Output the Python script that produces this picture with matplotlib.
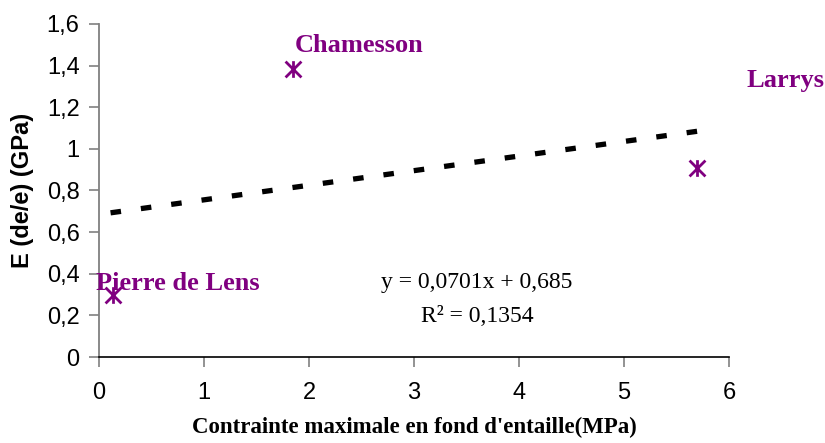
import numpy as np
import matplotlib
matplotlib.use("Agg")
import matplotlib.pyplot as plt
from matplotlib.path import Path
from matplotlib.ticker import FuncFormatter

# data
names = ["Pierre de Lens", "Chamesson", "Larrys"]
contrainte = [0.13, 1.85, 5.70]
module_e = [0.30, 1.385, 0.91]
slope = 0.0701
intercept = 0.685
r2 = 0.1354

purple = "#800080"
serif = "Liberation Serif"
sans = "Liberation Sans"

# Excel-like star marker: an X with a vertical stroke
star = Path([(-1, -1), (1, 1), (-1, 1), (1, -1), (0, -1.05), (0, 1.05)],
            [Path.MOVETO, Path.LINETO, Path.MOVETO, Path.LINETO, Path.MOVETO, Path.LINETO])

fig = plt.figure(figsize=(8.25, 4.43), dpi=100)
ax = fig.add_axes([0.12, 0.194, 0.7636, 0.752])

ax.plot(contrainte, module_e, linestyle="none", marker=star,
        markersize=12, markeredgewidth=2.0, color=purple)

# linear trend line
xs = np.array([min(contrainte) - 0.02, max(contrainte)])
trend, = ax.plot(xs, slope * xs + intercept, color="black", linewidth=3.8,
                 solid_capstyle="butt", dash_capstyle="butt")
trend.set_dashes([2.0, 3.8])

# point labels
label_font = dict(family=serif, fontsize=19, fontweight="bold", color=purple)
ax.text(-0.03, 0.355, names[0], ha="left", va="center", **label_font)
ax.text(1.86, 1.495, names[1], ha="left", va="center", **label_font)
ax.text(6.17, 1.33, names[2], ha="left", va="center", **label_font, clip_on=False)

# equation
eq_font = dict(family=serif, fontsize=17, color="black")
ax.text(3.6, 0.36, "y = {:.4f}x + {:.3f}".format(slope, intercept).replace(".", ","),
        ha="center", va="center", **eq_font)
ax.text(3.6, 0.195, "R² = {:.4f}".format(r2).replace(".", ","),
        ha="center", va="center", **eq_font)

ax.set_xlim(0, 6)
ax.set_ylim(0, 1.6)
ax.set_xticks(range(0, 7))
ax.set_yticks(np.arange(0, 1.61, 0.2))
ax.yaxis.set_major_formatter(FuncFormatter(lambda v, p: "{:g}".format(round(v, 1)).replace(".", ",")))

for lab in ax.get_xticklabels() + ax.get_yticklabels():
    lab.set_fontfamily(sans)
    lab.set_fontsize(17)

ax.spines["top"].set_visible(False)
ax.spines["right"].set_visible(False)
ax.spines["left"].set_color("#808080")
ax.spines["left"].set_linewidth(1.3)
ax.spines["bottom"].set_color("black")
ax.spines["bottom"].set_linewidth(1.2)
ax.tick_params(axis="y", direction="out", length=7, width=1.2, color="#808080", pad=7)
ax.tick_params(axis="x", direction="out", length=7, width=1.2, color="#808080", pad=11)

ax.set_xlabel("Contrainte maximale en fond d'entaille(MPa)", family=serif,
              fontsize=16.5, fontweight="bold", labelpad=9)
ax.set_ylabel("E (de/e) (GPa)", family=sans, fontsize=17, fontweight="bold", labelpad=9)

fig.savefig("out.png", dpi=100)
